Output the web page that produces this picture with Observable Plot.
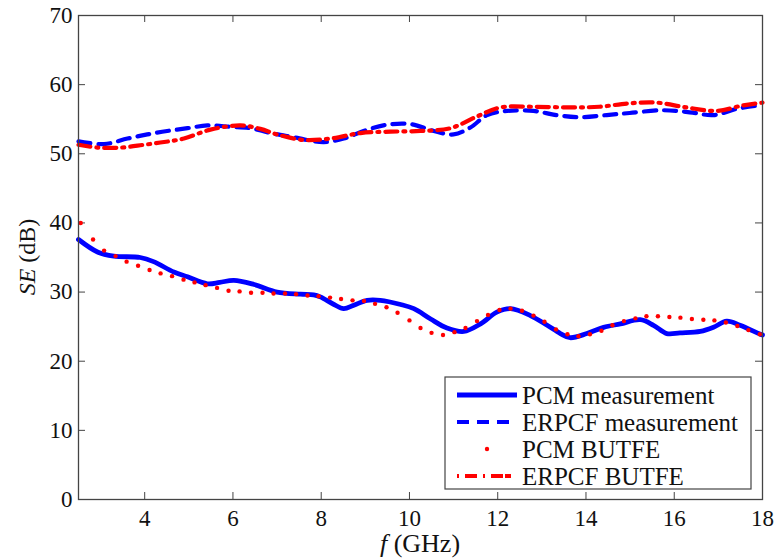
<!DOCTYPE html>
<html><head><meta charset="utf-8">
<script src="https://cdn.jsdelivr.net/npm/d3@7"></script>
<script src="https://cdn.jsdelivr.net/npm/@observablehq/plot@0.6"></script>
<style>
body{margin:0;background:#fff}
#chart{width:776px;height:558px}
#chart svg text{font-family:"Liberation Serif","Times New Roman",serif}
</style>
</head><body><div id="chart"></div>
<script>
// ---- data ----
const xTicks = [4, 6, 8, 10, 12, 14, 16, 18];
const yTicks = [0, 10, 20, 30, 40, 50, 60, 70];

const seriesNames = ["PCM measurement", "ERPCF measurement", "PCM BUTFE", "ERPCF BUTFE"];

const pcmMeasF  = [2.5, 2.93, 3.3, 3.9, 4.2, 4.66, 4.97, 5.42, 5.7, 6.02, 6.48, 7.0, 7.53, 7.83, 7.98, 8.29, 8.51, 8.74, 9.04, 9.34, 9.8, 10.1, 10.48, 10.85, 11.23, 11.61, 11.98, 12.29, 12.74, 13.12, 13.42, 13.64, 14.02, 14.4, 14.78, 15.23, 15.53, 15.83, 16.13, 16.59, 16.89, 17.19, 17.49, 17.95, 18.0];
const pcmMeasSE = [37.6, 35.8, 35.2, 35.0, 34.4, 32.9, 32.2, 31.2, 31.4, 31.7, 31.1, 30.0, 29.7, 29.6, 29.3, 28.2, 27.6, 28.1, 28.8, 28.8, 28.2, 27.6, 26.1, 24.8, 24.3, 25.4, 27.1, 27.6, 26.6, 25.2, 24.0, 23.4, 24.0, 24.9, 25.4, 26.0, 25.2, 24.0, 24.1, 24.3, 24.9, 25.8, 25.2, 23.9, 23.8];

const erpcfMeasF  = [2.5, 3.08, 3.61, 4.06, 4.51, 4.97, 5.42, 5.95, 6.4, 6.85, 7.46, 7.68, 8.06, 8.51, 8.96, 9.49, 10.02, 10.55, 11.0, 11.38, 11.76, 12.21, 12.81, 13.33, 13.87, 14.47, 14.99, 15.75, 16.35, 16.89, 17.42, 17.95, 18.0];
const erpcfMeasSE = [51.8, 51.4, 52.2, 52.8, 53.3, 53.7, 54.1, 53.9, 53.7, 53.0, 52.3, 52.0, 51.7, 52.2, 53.3, 54.2, 54.3, 53.3, 52.8, 53.8, 55.6, 56.2, 56.2, 55.6, 55.3, 55.6, 55.9, 56.3, 56.0, 55.6, 56.5, 57.0, 57.0];

const pcmButfeF  = [2.55, 2.83, 3.08, 3.34, 3.59, 3.85, 4.11, 4.36, 4.62, 4.88, 5.13, 5.38, 5.64, 5.9, 6.15, 6.41, 6.67, 6.92, 7.18, 7.43, 7.69, 7.94, 8.2, 8.45, 8.71, 8.97, 9.22, 9.48, 9.73, 10.0, 10.25, 10.5, 10.76, 11.02, 11.27, 11.53, 11.78, 12.04, 12.29, 12.55, 12.81, 13.06, 13.32, 13.58, 13.83, 14.09, 14.35, 14.6, 14.86, 15.12, 15.37, 15.63, 15.89, 16.14, 16.4, 16.66, 16.91, 17.17, 17.43, 17.68, 17.94];
const pcmButfeSE = [40.0, 37.6, 36.0, 35.2, 34.4, 33.8, 33.2, 32.7, 32.3, 31.8, 31.4, 31.0, 30.6, 30.2, 30.1, 29.9, 29.9, 29.8, 29.8, 29.7, 29.5, 29.4, 29.2, 29.0, 28.8, 28.7, 28.3, 27.8, 27.0, 25.9, 24.8, 24.1, 23.8, 24.2, 24.8, 25.8, 26.7, 27.4, 27.6, 27.3, 26.6, 25.7, 24.6, 23.9, 23.6, 23.9, 24.4, 25.2, 25.8, 26.2, 26.5, 26.5, 26.4, 26.3, 26.1, 26.0, 25.9, 25.6, 25.1, 24.5, 23.9];

const erpcfButfeF  = [2.5, 2.93, 3.46, 3.98, 4.44, 4.89, 5.49, 6.17, 6.62, 7.0, 7.6, 8.21, 8.89, 9.57, 10.25, 10.93, 11.53, 12.06, 12.81, 13.64, 14.3, 14.99, 15.6, 16.28, 16.96, 17.56, 18.0];
const erpcfButfeSE = [51.3, 50.9, 50.9, 51.3, 51.7, 52.2, 53.5, 54.1, 53.6, 52.8, 52.0, 52.2, 53.0, 53.2, 53.3, 53.7, 55.4, 56.7, 56.8, 56.7, 56.8, 57.3, 57.4, 56.7, 56.2, 57.0, 57.4];

// ---- build tables ----
const zip = (fs, vs) => fs.map((f, i) => ({f, se: vs[i]}));
const pcmMeas = zip(pcmMeasF, pcmMeasSE);
const erpcfMeas = zip(erpcfMeasF, erpcfMeasSE);
const pcmButfe = zip(pcmButfeF, pcmButfeSE);
const erpcfButfe = zip(erpcfButfeF, erpcfButfeSE);

const W = 776, H = 558;
const mL = 78, mR = 14, mT = 15, mB = 59;
const innerW = W - mL - mR, innerH = H - mT - mB;
const TICK = 7;
const BLUE = "#0000ff", RED = "#ff0000", AX = "#444";
const FONT = "Liberation Serif, Times New Roman, serif";

const plot = Plot.plot({
  width: W, height: H,
  marginLeft: mL, marginRight: mR, marginTop: mT, marginBottom: mB,
  style: {fontFamily: FONT, fontSize: "23px", color: "#111", background: "#fff"},
  x: {domain: [2.5, 18]},
  y: {domain: [0, 70]},
  marks: [
    // inward ticks (MATLAB style), on all four sides
    Plot.tickX(xTicks, {x: d => d, insetTop: innerH - TICK, stroke: AX}),
    Plot.tickX(xTicks, {x: d => d, insetBottom: innerH - TICK, stroke: AX}),
    Plot.tickY(yTicks, {y: d => d, insetRight: innerW - TICK, stroke: AX}),
    Plot.tickY(yTicks, {y: d => d, insetLeft: innerW - TICK, stroke: AX}),
    Plot.axisX({ticks: xTicks, tickSize: 0, tickPadding: 10, label: null, fontSize: 23, fontFamily: FONT, fill: "#111"}),
    Plot.axisY({ticks: yTicks, tickSize: 0, tickPadding: 6, label: null, fontSize: 23, fontFamily: FONT, fill: "#111"}),
    Plot.line(pcmMeas, {x: "f", y: "se", stroke: BLUE, strokeWidth: 4.8, curve: "catmull-rom"}),
    Plot.line(erpcfMeas, {x: "f", y: "se", stroke: BLUE, strokeWidth: 4.2, strokeDasharray: "12,8", curve: "catmull-rom"}),
    Plot.dot(pcmButfe, {x: "f", y: "se", r: 2.2, fill: RED, stroke: null}),
    Plot.line(erpcfButfe, {x: "f", y: "se", stroke: RED, strokeWidth: 4.2, strokeDasharray: "12,6,2,6", curve: "catmull-rom"}),
    Plot.frame({stroke: AX, strokeWidth: 1.3})
  ]
});
document.getElementById("chart").append(plot);

// ---- axis titles & legend ----
const svg = d3.select(plot);
const xl = svg.append("text")
  .attr("x", mL + innerW / 2).attr("y", 552)
  .attr("text-anchor", "middle")
  .attr("font-family", FONT).attr("font-size", 26).attr("fill", "#111");
xl.append("tspan").attr("font-style", "italic").text("f");
xl.append("tspan").text(" (GHz)");

const yl = svg.append("text")
  .attr("transform", `translate(35,${mT + innerH / 2}) rotate(-90)`)
  .attr("text-anchor", "middle")
  .attr("font-family", FONT).attr("font-size", 24).attr("fill", "#111");
yl.append("tspan").attr("font-style", "italic").text("SE");
yl.append("tspan").text(" (dB)");

const lg = svg.append("g").attr("text-anchor", "start");
const bx = 445, by = 377, bw = 306, bh = 112;
lg.append("rect").attr("x", bx).attr("y", by).attr("width", bw).attr("height", bh)
  .attr("fill", "#fff").attr("stroke", AX).attr("stroke-width", 1.2);
const rowY = [395, 422, 449, 476];
const styles = [
  {stroke: BLUE, w: 4.8, dash: null},
  {stroke: BLUE, w: 4.2, dash: "12,8"},
  {dot: true},
  {stroke: RED, w: 4.2, dash: "2,6,12,6,2,6,12"}
];
seriesNames.forEach((name, i) => {
  const s = styles[i], yy = rowY[i];
  if (s.dot) {
    lg.append("circle").attr("cx", 487).attr("cy", yy).attr("r", 2.2).attr("fill", RED);
  } else {
    lg.append("line").attr("x1", 457).attr("x2", 517).attr("y1", yy).attr("y2", yy)
      .attr("stroke", s.stroke).attr("stroke-width", s.w)
      .attr("stroke-dasharray", s.dash);
  }
  lg.append("text").attr("x", 522).attr("y", yy).attr("dy", "0.34em")
    .attr("text-anchor", "start")
    .attr("font-family", FONT).attr("font-size", 25).attr("fill", "#111").text(name);
});
</script>
</body></html>
